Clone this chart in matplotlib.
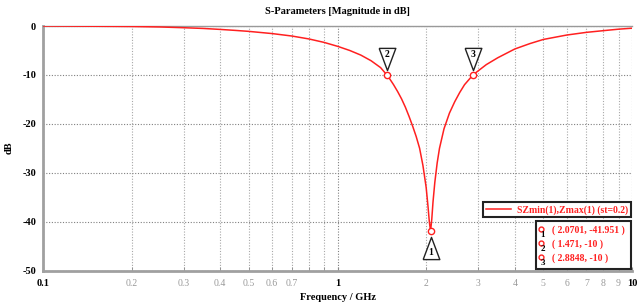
import numpy as np
import matplotlib
matplotlib.use("Agg")
import matplotlib.pyplot as plt
from matplotlib.ticker import FixedLocator
from matplotlib.transforms import ScaledTranslation
from matplotlib.patches import Rectangle

# curve values (frequency in GHz, magnitude in dB)
freq = [0.1, 0.15, 0.2, 0.25, 0.3, 0.35, 0.4, 0.45, 0.5, 0.6, 0.7, 0.8,
        0.9, 1.0, 1.1, 1.2, 1.3, 1.4, 1.471, 1.5, 1.55, 1.6, 1.65, 1.7,
        1.75, 1.8, 1.85, 1.9, 1.95, 2.0, 2.03, 2.05, 2.0701, 2.09, 2.11,
        2.14, 2.18, 2.22, 2.3, 2.4, 2.5, 2.6, 2.7, 2.8848, 3.0, 3.2, 3.5,
        4.0, 4.5, 5.0, 6.0, 7.0, 8.0, 9.0, 10.0]
mag_db = [0.0, -0.05, -0.1, -0.2, -0.35, -0.5, -0.7, -0.9, -1.1, -1.55,
          -2.05, -2.65, -3.35, -4.15, -5.0, -5.95, -7.1, -8.5, -10.0,
          -10.7, -12.0, -13.4, -14.9, -16.6, -18.5, -20.5, -22.6, -25.0,
          -28.5, -33.0, -37.0, -40.0, -41.951, -39.5, -36.0, -32.0, -28.0,
          -25.0, -21.0, -17.8, -15.5, -13.6, -12.0, -10.0, -9.2, -7.9,
          -6.5, -4.7, -3.6, -2.75, -1.85, -1.3, -0.95, -0.65, -0.45]

# markers
mk_id = ["1", "2", "3"]
mk_freq = [2.0701, 1.471, 2.8848]
mk_db = [-41.951, -10.0, -10.0]
mk_text = ["( 2.0701, -41.951 )", "( 1.471, -10 )", "( 2.8848, -10 )"]

series_label = "SZmin(1),Zmax(1) (st=0.2)"
title = "S-Parameters [Magnitude in dB]"
x_major = [0.1, 1, 10]
x_minor = [0.2, 0.3, 0.4, 0.5, 0.6, 0.7, 0.8, 0.9,
           2, 3, 4, 5, 6, 7, 8, 9]
x_minor_labels = ["0.2", "0.3", "0.4", "0.5", "0.6", "0.7", "", "",
                  "2", "3", "4", "5", "6", "7", "8", "9"]
y_ticks = [0, -10, -20, -30, -40, -50]

RED = "#ff2020"
plt.rcParams.update({
    "font.family": ["Liberation Serif", "DejaVu Serif"],
    "font.size": 7,
})

W, H = 637, 306
fig = plt.figure(figsize=(W / 100, H / 100), dpi=100)
ax = fig.add_axes([43 / W, 1 - 270.5 / H, (632 - 43) / W, (270.5 - 26) / H])

ax.plot(freq, mag_db, color=RED, lw=1.1, zorder=3)
ax.set_xscale("log")
ax.set_xlim(0.1, 10)
ax.set_ylim(-50, 0)

# ticks and grid
ax.xaxis.set_major_locator(FixedLocator(x_major))
ax.set_xticklabels(["0.1", "1", "10"], fontweight="bold", fontsize=7.5)
ax.set_xticks(x_minor, x_minor_labels, minor=True, color="#999999")
ax.set_yticks(y_ticks, [str(v) for v in y_ticks], fontweight="bold",
              fontsize=7.5)
ax.tick_params(axis="x", which="both", direction="in", length=3,
               color="#888888", pad=6)
ax.tick_params(axis="y", length=0, pad=5)
ax.grid(True, which="major", color="#808080", lw=0.8, ls=(0, (1, 1.5)))
ax.grid(True, which="minor", axis="x", color="#a8a8a8", lw=0.8,
        ls=(0, (1, 1.5)))

for side in ["left", "bottom"]:
    ax.spines[side].set_color("#a0a0a0")
    ax.spines[side].set_linewidth(2)
ax.spines["top"].set_color("#999999")
ax.spines["top"].set_linewidth(1)
ax.spines["right"].set_visible(False)

ax.set_title(title, fontweight="bold", fontsize=7.5, pad=9)
ax.set_xlabel("Frequency / GHz", fontweight="bold", fontsize=7.5, labelpad=4)
ax.set_ylabel("dB", fontweight="bold", fontsize=7.5, labelpad=6)

# marker flags (closed triangles)
up_tri = [(-0.75, -1), (0.75, -1), (0, 1), (-0.75, -1)]
down_tri = [(-0.75, 1), (0.75, 1), (0, -1), (-0.75, 1)]
for i, (f, d) in enumerate(zip(mk_freq, mk_db)):
    ax.plot(f, d, "o", ms=4.5, mfc="white", mec=RED, mew=1, zorder=5)
    if d < -25:
        tri, dy, ty = up_tri, -0.165, -0.21
    else:
        tri, dy, ty = down_tri, 0.16, 0.205
    ax.plot(f, d, marker=tri, ms=16, mfc="white", mec="#222222", mew=1,
            transform=ax.transData + ScaledTranslation(0, dy, fig.dpi_scale_trans),
            zorder=6)
    ax.text(f, d, mk_id[i], ha="center", va="center", fontsize=7,
            fontweight="bold",
            transform=ax.transData + ScaledTranslation(0, ty, fig.dpi_scale_trans),
            zorder=7)

# series legend
leg = ax.legend([ax.lines[0]], [series_label], loc="upper right",
                bbox_to_anchor=(631 / W, 1 - 202 / H),
                bbox_transform=fig.transFigure, borderaxespad=0,
                fancybox=False, framealpha=1, edgecolor="#222222",
                prop={"weight": "bold", "size": 7}, handlelength=2.6,
                borderpad=0.3, handletextpad=0.6)
leg.get_frame().set_linewidth(1.5)
for t in leg.get_texts():
    t.set_color(RED)

# marker readout box
fig.patches.append(Rectangle((536 / W, 1 - 269 / H), 95 / W, 48 / H,
                             transform=fig.transFigure, fc="white",
                             ec="#222222", lw=1.5, zorder=10))
for i in range(len(mk_id)):
    yy = 229 + 14 * i
    fig.lines.append(plt.Line2D([541 / W], [1 - yy / H], marker="o", ms=3.5,
                                mfc="none", mec=RED, mew=1,
                                transform=fig.transFigure, zorder=11))
    fig.text(543 / W, 1 - (yy + 6) / H, mk_id[i], color="black",
             fontsize=6.5, fontweight="bold", ha="center", va="center",
             zorder=11)
    fig.text(552 / W, 1 - (yy + 1) / H, mk_text[i], color=RED, fontsize=7,
             fontweight="bold", ha="left", va="center", zorder=11)

fig.savefig("out.png", dpi=100)
